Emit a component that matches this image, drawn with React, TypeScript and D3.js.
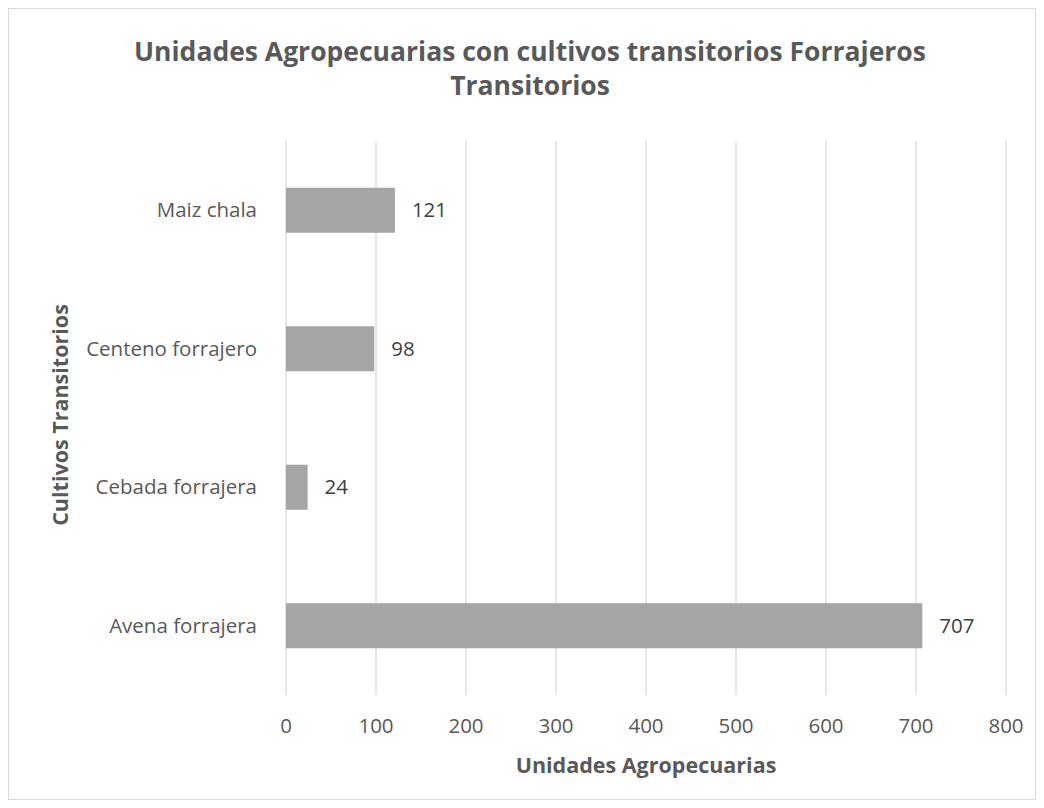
import React from "react";
import * as d3 from "d3";

const categories = ["Maiz chala", "Centeno forrajero", "Cebada forrajera", "Avena forrajera"];
const values = [121, 98, 24, 707];
const xTicks = [0, 100, 200, 300, 400, 500, 600, 700, 800];
const titleLines = ["Unidades Agropecuarias con cultivos transitorios Forrajeros", "Transitorios"];
const xTitle = "Unidades Agropecuarias";
const yTitle = "Cultivos Transitorios";

const W = 1044;
const H = 808;
const plot = { left: 286, right: 1006, top: 141, bottom: 695 };
const font = "'Open Sans', 'Liberation Sans', sans-serif";
const textColor = "#595959";

export default function App() {
  const x = d3.scaleLinear().domain([0, 800]).range([plot.left, plot.right]);
  const y = d3.scaleBand<string>().domain(categories).range([plot.top, plot.bottom]).padding(0);
  const barH = y.bandwidth() * 0.325;

  return (
    <svg width={W} height={H} style={{ position: "absolute", left: 0, top: 0 }}>
      <rect x={0} y={0} width={W} height={H} fill="#ffffff" />
      <rect x={8.5} y={8.5} width={1027} height={791} fill="#ffffff" stroke="#d9d9d9" strokeWidth={1} />
      {titleLines.map((t, i) => (
        <text
          key={i}
          x={530}
          y={61 + i * 34}
          textAnchor="middle"
          fontFamily={font}
          fontWeight="bold"
          fontSize={26.5}
          fill={textColor}
        >
          {t}
        </text>
      ))}
      {xTicks.map((t) => (
        <g key={t}>
          <line x1={x(t)} x2={x(t)} y1={plot.top} y2={plot.bottom} stroke="#d9d9d9" strokeWidth={1.3} />
          <text x={x(t)} y={733} textAnchor="middle" fontFamily={font} fontSize={20.5} fill={textColor}>
            {t}
          </text>
        </g>
      ))}
      {categories.map((c, i) => {
        const cy = (y(c) as number) + y.bandwidth() / 2;
        return (
          <g key={c}>
            <rect x={x(0)} y={cy - barH / 2} width={x(values[i]) - x(0)} height={barH} fill="#a5a5a5" />
            <text x={257} y={cy + 7} textAnchor="end" fontFamily={font} fontSize={20.5} fill={textColor}>
              {c}
            </text>
            <text x={x(values[i]) + 17} y={cy + 7} fontFamily={font} fontSize={20.5} fill="#404040">
              {values[i]}
            </text>
          </g>
        );
      })}
      <text x={(plot.left + plot.right) / 2} y={773} textAnchor="middle" fontFamily={font} fontWeight="bold" fontSize={21.5} fill={textColor}>
        {xTitle}
      </text>
      <text
        transform={`translate(68, 415) rotate(-90)`}
        textAnchor="middle"
        fontFamily={font}
        fontWeight="bold"
        fontSize={21.5}
        fill={textColor}
      >
        {yTitle}
      </text>
    </svg>
  );
}
